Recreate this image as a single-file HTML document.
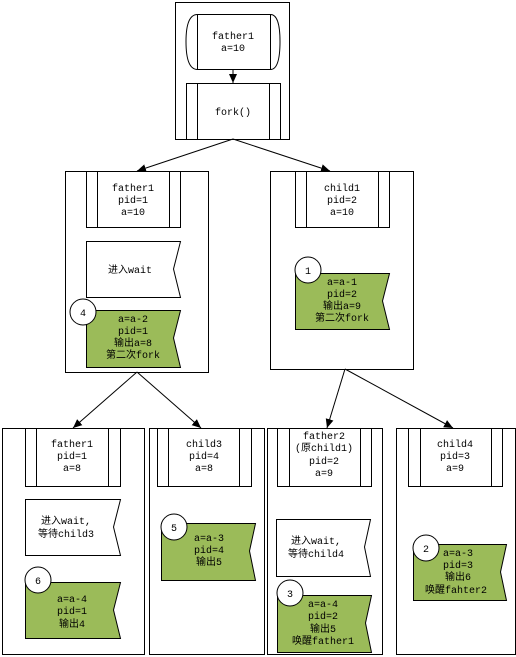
<!DOCTYPE html>
<html><head><meta charset="utf-8"><style>body{margin:0;background:#fff}svg{display:block}text{font-family:"Liberation Mono","Noto Sans CJK SC",monospace;font-size:10px;text-anchor:middle;fill:#000}</style></head><body>
<svg width="516" height="657" viewBox="0 0 516 657">
<defs><marker id="a" markerWidth="10" markerHeight="10" refX="9" refY="5" orient="auto" markerUnits="userSpaceOnUse"><path d="M0,1 L9,5 L0,9 z" fill="#000"/></marker></defs>
<g fill="#fff" stroke="#000" stroke-width="1">
<rect x="175.5" y="2.5" width="114" height="137"/>
<path d="M197.5,14.5 H270.5 Q280,14.5 280,41.5 Q280,69.5 270.5,69.5 H197.5 Q186,69.5 186,41.5 Q186,14.5 197.5,14.5 z"/>
<line x1="197.5" y1="14.5" x2="197.5" y2="69.5"/><line x1="270.5" y1="14.5" x2="270.5" y2="69.5"/>
<rect x="186.5" y="83.5" width="94" height="56"/><line x1="197.5" y1="83.5" x2="197.5" y2="139.5"/><line x1="269.5" y1="83.5" x2="269.5" y2="139.5"/>

<rect x="65.5" y="171.5" width="143" height="201"/>
<rect x="86.5" y="171.5" width="94" height="56"/><line x1="97.5" y1="171.5" x2="97.5" y2="227.5"/><line x1="169.5" y1="171.5" x2="169.5" y2="227.5"/>
<path d="M86.5,241.5 H180.5 L173.5,269 L180.5,297.5 H86.5 z"/>
<path d="M86.5,310.5 H180.5 L173.5,338 L180.5,367.5 H86.5 z" fill="#9bbb59"/>
<circle cx="83" cy="312" r="13"/>

<rect x="270.5" y="171.5" width="143" height="198"/>
<rect x="295.5" y="171.5" width="94" height="56"/><line x1="306.5" y1="171.5" x2="306.5" y2="227.5"/><line x1="378.5" y1="171.5" x2="378.5" y2="227.5"/>
<path d="M295.5,273.5 H389.5 L382.5,301 L389.5,329.5 H295.5 z" fill="#9bbb59"/>
<circle cx="308" cy="270" r="13"/>

<rect x="2.5" y="428.5" width="142" height="226"/>
<rect x="25.5" y="428.5" width="95" height="58"/><line x1="36.5" y1="428.5" x2="36.5" y2="486.5"/><line x1="108.5" y1="428.5" x2="108.5" y2="486.5"/>
<path d="M25.5,499.5 H120.5 L113.5,527 L120.5,555.5 H25.5 z"/>
<path d="M25.5,582.5 H120.5 L113.5,610 L120.5,638.5 H25.5 z" fill="#9bbb59"/>
<circle cx="38" cy="580" r="13"/>

<rect x="149.5" y="428.5" width="115" height="226"/>
<rect x="157.5" y="428.5" width="94" height="58"/><line x1="168.5" y1="428.5" x2="168.5" y2="486.5"/><line x1="239.5" y1="428.5" x2="239.5" y2="486.5"/>
<path d="M161.5,523.5 H255.5 L249.5,551 L255.5,580.5 H161.5 z" fill="#9bbb59"/>
<circle cx="174" cy="527" r="13"/>

<rect x="267.5" y="428.5" width="115" height="226"/>
<rect x="277.5" y="428.5" width="94" height="58"/><line x1="289.5" y1="428.5" x2="289.5" y2="486.5"/><line x1="360.5" y1="428.5" x2="360.5" y2="486.5"/>
<path d="M276.5,519.5 H370.5 L364.5,547 L370.5,576.5 H276.5 z"/>
<path d="M277.5,595.5 H371.5 L365.5,623 L371.5,652.5 H277.5 z" fill="#9bbb59"/>
<circle cx="290" cy="593" r="13"/>

<rect x="396.5" y="428.5" width="119" height="226"/>
<rect x="408.5" y="428.5" width="94" height="58"/><line x1="420.5" y1="428.5" x2="420.5" y2="486.5"/><line x1="491.5" y1="428.5" x2="491.5" y2="486.5"/>
<path d="M413.5,544.5 H506.5 L500.5,572 L506.5,600.5 H413.5 z" fill="#9bbb59"/>
<circle cx="426" cy="548" r="13"/>
</g>
<g stroke="#000" stroke-width="1" fill="none">
<line x1="233" y1="69" x2="233" y2="83" marker-end="url(#a)"/>
<line x1="233" y1="139" x2="137" y2="171" marker-end="url(#a)"/>
<line x1="233" y1="139" x2="330" y2="171" marker-end="url(#a)"/>
<line x1="137" y1="372" x2="73" y2="428" marker-end="url(#a)"/>
<line x1="137" y1="372" x2="201" y2="428" marker-end="url(#a)"/>
<line x1="345" y1="369" x2="327" y2="428" marker-end="url(#a)"/>
<line x1="345" y1="369" x2="453" y2="428" marker-end="url(#a)"/>
</g>
<g>
<text x="233" y="39">father1</text><text x="233" y="51">a=10</text>
<text x="233" y="115">fork()</text>
<text x="133" y="191">father1</text><text x="133" y="203">pid=1</text><text x="133" y="215">a=10</text>
<text x="130" y="273">进入wait</text>
<text x="83" y="316">4</text>
<text x="133" y="322">a=a-2</text><text x="133" y="334">pid=1</text><text x="133" y="346">输出a=8</text><text x="133" y="358">第二次fork</text>
<text x="342" y="191">child1</text><text x="342" y="203">pid=2</text><text x="342" y="215">a=10</text>
<text x="308" y="274">1</text>
<text x="342" y="285">a=a-1</text><text x="342" y="297">pid=2</text><text x="342" y="309">输出a=9</text><text x="342" y="321">第二次fork</text>
<text x="72" y="447">father1</text><text x="72" y="459">pid=1</text><text x="72" y="471">a=8</text>
<text x="66" y="524">进入wait,</text><text x="66" y="537">等待child3</text>
<text x="38" y="584">6</text>
<text x="72" y="602">a=a-4</text><text x="72" y="614">pid=1</text><text x="72" y="627">输出4</text>
<text x="204" y="447">child3</text><text x="204" y="459">pid=4</text><text x="204" y="471">a=8</text>
<text x="174" y="531">5</text>
<text x="209" y="541">a=a-3</text><text x="209" y="553">pid=4</text><text x="209" y="565">输出5</text>
<text x="324" y="439">father2</text><text x="324" y="451">(原child1)</text><text x="324" y="464">pid=2</text><text x="324" y="476">a=9</text>
<text x="316" y="544">进入wait,</text><text x="316" y="557">等待child4</text>
<text x="290" y="597">3</text>
<text x="323" y="607">a=a-4</text><text x="323" y="619">pid=2</text><text x="323" y="632">输出5</text><text x="323" y="644">唤醒father1</text>
<text x="455" y="447">child4</text><text x="455" y="459">pid=3</text><text x="455" y="471">a=9</text>
<text x="426" y="552">2</text>
<text x="458" y="556">a=a-3</text><text x="458" y="568">pid=3</text><text x="458" y="580">输出6</text><text x="456" y="593">唤醒fahter2</text>
</g>
</svg>
</body></html>
